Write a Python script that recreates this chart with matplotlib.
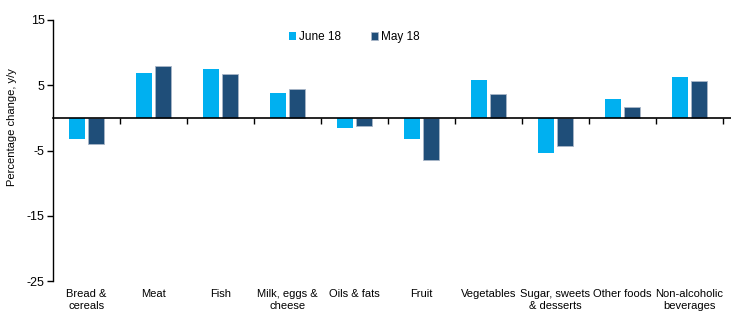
import numpy as np
import matplotlib.pyplot as plt
from matplotlib.transforms import blended_transform_factory

plt.rcParams['font.family'] = ['Liberation Sans', 'DejaVu Sans']
plt.rcParams['axes.unicode_minus'] = False

categories = ["Bread &\ncereals", "Meat", "Fish", "Milk, eggs &\ncheese", "Oils & fats",
              "Fruit", "Vegetables", "Sugar, sweets\n& desserts", "Other foods",
              "Non-alcoholic\nbeverages"]
june18 = [-3.2, 6.9, 7.5, 3.8, -1.5, -3.2, 5.8, -5.4, 2.9, 6.3]
may18 = [-4.0, 7.9, 6.8, 4.4, -1.3, -6.4, 3.6, -4.3, 1.7, 5.6]
yticks = [-25, -15, -5, 5, 15]

fig = plt.figure(figsize=(7.31, 3.28), dpi=100)
ax = fig.add_axes([53/731, 1 - 281/328, 678/731, 261/328])

x = np.arange(len(categories))
w = 0.24
ax.bar(x - 0.14, june18, w, color='#00B0F0', label='June 18', zorder=2)
ax.bar(x + 0.14, may18, w, color='#1F4E79', edgecolor='#A9B6C8', linewidth=0.6,
       label='May 18', zorder=2)

ax.set_ylim(-25, 15)
ax.set_yticks(yticks)
ax.set_xlim(-0.5, 9.5 + 8/67)

for s in ['top', 'right']:
    ax.spines[s].set_visible(False)
ax.spines['bottom'].set_position(('data', 0))
ax.spines['bottom'].set_zorder(3)
ax.spines['left'].set_linewidth(1.0)
ax.spines['bottom'].set_linewidth(1.2)

ax.set_xticks(np.arange(0.5, 10, 1))
ax.set_xticklabels([])
ax.tick_params(axis='x', length=4, width=1, direction='out')
ax.tick_params(axis='y', length=4, width=1, direction='out', labelsize=9, pad=2)

trans = blended_transform_factory(ax.transData, ax.transAxes)
for i, lab in enumerate(categories):
    ax.annotate(lab, xy=(i, 0), xycoords=trans, xytext=(0, -6), textcoords='offset points',
                ha='center', va='top', fontsize=8, linespacing=1.15)

fig.text(12/731, 1 - 127/328, "Percentage change, y/y", rotation=90,
         ha='center', va='center', fontsize=8)

ax.legend(loc='center left', bbox_to_anchor=(284/731, 1 - 37/328),
          bbox_transform=fig.transFigure, ncol=2, frameon=False, fontsize=8.5,
          handlelength=0.6, handleheight=0.6, handletextpad=0.3, columnspacing=2.5,
          borderaxespad=0)

fig.savefig("out.png", dpi=100)
